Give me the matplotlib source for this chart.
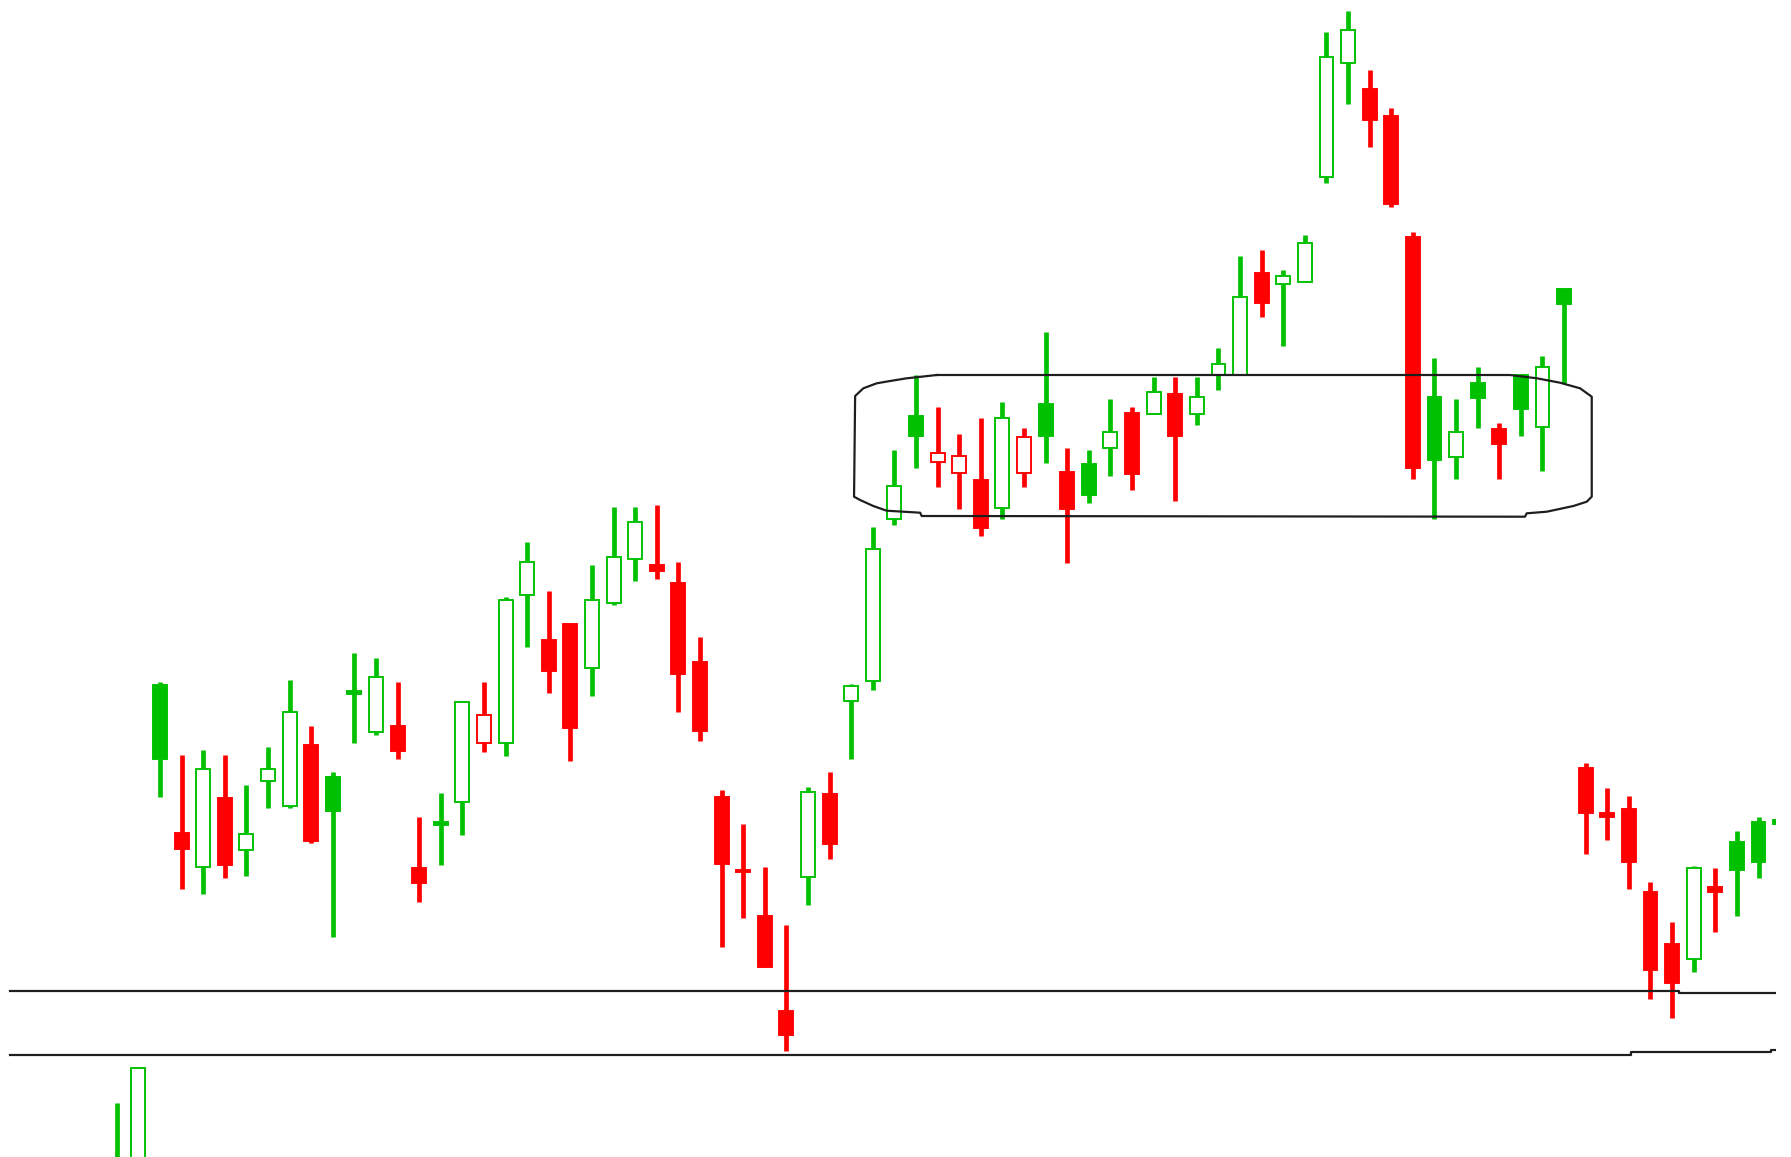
import matplotlib
matplotlib.use('Agg')
import matplotlib.pyplot as plt

# daily candles, prices (arbitrary price units)
opens = [-5, -40, 472, 323.7, 290.3, 358.7, 307, 376.3, 351.3, 412.3,
         380.3, 466.5, 425, 431, 288.7, 335.2, 355.3, 413.7, 413.8, 561.8,
         517.2, 532.9, 488.7, 553.7, 597.6, 592.1, 573.8, 495.3, 360.1, 286.8,
         240.6, 145.6, 280.4, 362.7, 456.2, 475.9, 638, 741.3, 694.7, 683.7,
         677, 648.7, 683.7, 752.7, 685.3, 693, 708.7, 744.3, 743, 763,
         743, 782, 782, 884.3, 872.7, 875.3, 980.3, 1094.3, 1067.7, 1041,
         919.7, 760.3, 700.3, 774.3, 728, 782, 729.7, 868, 388.7, 344,
         348, 264.7, 213, 198, 270.5, 315.3, 334.7, 337]
highs = [53.7, 88.7, 475, 402, 407, 402, 372, 409.7, 477, 431,
         385.3, 504.3, 498.7, 474.7, 339.7, 363.7, 455.3, 474.7, 560, 614.8,
         565.8, 532.9, 592.1, 649.8, 649.8, 652.4, 595, 519.8, 367.4, 332.7,
         289.6, 232.2, 370.3, 384.6, 473.4, 630.5, 707, 782, 749.7, 722.7,
         738.7, 755.3, 728.7, 825.3, 709.3, 707, 757.7, 749.7, 780.3, 780.3,
         780.3, 808.7, 901, 907, 887, 922, 1124.7, 1146, 1087, 1049.3,
         925.3, 798.7, 757.7, 790.3, 733.7, 782, 801, 868, 393.7, 369.3,
         361.3, 274.7, 234.7, 291, 288.7, 326.3, 339.7, 337]
lows = [-60, -60, 360.3, 267.7, 262.7, 278.7, 281.3, 349.3, 349.3, 314.3,
        219.7, 413.7, 422, 397.7, 254.7, 292, 322, 405.3, 401.4, 509.9,
        464.2, 395.9, 461.3, 551.9, 575.7, 578.2, 445.2, 415.6, 209.6, 238.8,
        190.2, 106.2, 252.3, 298, 398.5, 466.8, 632, 688.7, 669.7, 648,
        621.3, 637.7, 669.7, 694.3, 594.3, 653.7, 681, 667, 743, 656.3,
        732, 767, 782, 839.7, 811, 875.3, 974.3, 1052.7, 1009.7, 950.3,
        677.7, 637.7, 677.7, 728.7, 677.7, 721, 686.3, 773.7, 303, 317,
        268, 157.7, 138.7, 184.7, 224.7, 241, 278.7, 333]
closes = [-30, 88.7, 397.7, 308, 388, 292, 323, 388, 444.7, 316,
          346.3, 463, 479.7, 406, 273.7, 332.2, 455.3, 442, 557.4, 595,
          486.1, 428.8, 557.4, 600.5, 635.2, 585.9, 483.2, 425.9, 293.2, 285,
          190.2, 121.9, 364.8, 312.6, 470.8, 608.5, 671.3, 721, 703.7, 701,
          629.3, 738.7, 720.3, 721, 648, 662, 724.7, 683, 765.3, 721,
          759.7, 792.7, 860.3, 853.7, 881.3, 913.7, 1099.7, 1127, 1037, 953,
          688.7, 697, 725.3, 758.7, 713, 747.7, 789.7, 853, 343.7, 340,
          294.7, 187, 173.7, 288.7, 265.5, 287, 294.7, 333]

# hand-drawn support lines (bar index, price)
upper_line_x = [-4.94, 72.3, 72.3, 76.81]
upper_line_y = [166.4, 166.4, 163.7, 163.7]
lower_line_x = [-4.94, 70.1, 70.1, 76.6, 76.6, 76.81]
lower_line_y = [101.6, 101.6, 104.7, 104.7, 107, 107]

# hand-drawn box around the consolidation range
box_x = [37.96, 36.57, 35.80, 35.18, 34.56, 34.18, 34.13, 34.41, 35.02, 35.64,
         37.19, 37.26, 65.19, 65.27, 66.20, 67.43, 68.05, 68.28, 68.28, 67.74,
         66.81, 65.74, 64.50, 37.96]
box_y = [782, 778.7, 776, 773.7, 768.7, 761, 660.3, 657, 651, 646.3,
         644.3, 641, 640.3, 643.7, 645.3, 651, 655.3, 660.3, 760.3, 768.7,
         774.3, 778.7, 782, 782]

GREEN = '#00c000'
RED = '#ff0000'
PX = 72 / 100  # points per pixel at dpi 100

fig = plt.figure(figsize=(17.91, 11.57), dpi=100)
ax = fig.add_axes([0, 0, 1776 / 1791, 1])
ax.set_xlim(-5.407, 76.81)
ax.set_ylim(0, 1157)
ax.axis('off')

idx = list(range(len(closes)))
colors = [GREEN if i == 0 or closes[i] >= closes[i - 1] else RED for i in idx]
faces = ['white' if closes[i] > opens[i] else colors[i] for i in idx]
bottoms = [min(o, c) for o, c in zip(opens, closes)]
heights = [max(abs(c - o), 0.6) for o, c in zip(opens, closes)]

ax.vlines(idx, lows, highs, colors=colors, linewidth=4.7 * PX, zorder=1)
ax.bar(idx, heights, bottom=bottoms, width=0.645, color=faces,
       edgecolor=colors, linewidth=1.9 * PX, zorder=2)

line_kw = dict(color='#1e1e1e', linewidth=2.2 * PX, zorder=3)
ax.plot(upper_line_x, upper_line_y, **line_kw)
ax.plot(lower_line_x, lower_line_y, **line_kw)
ax.plot(box_x, box_y, **line_kw)

fig.savefig('out.png', dpi=100, facecolor='white')
